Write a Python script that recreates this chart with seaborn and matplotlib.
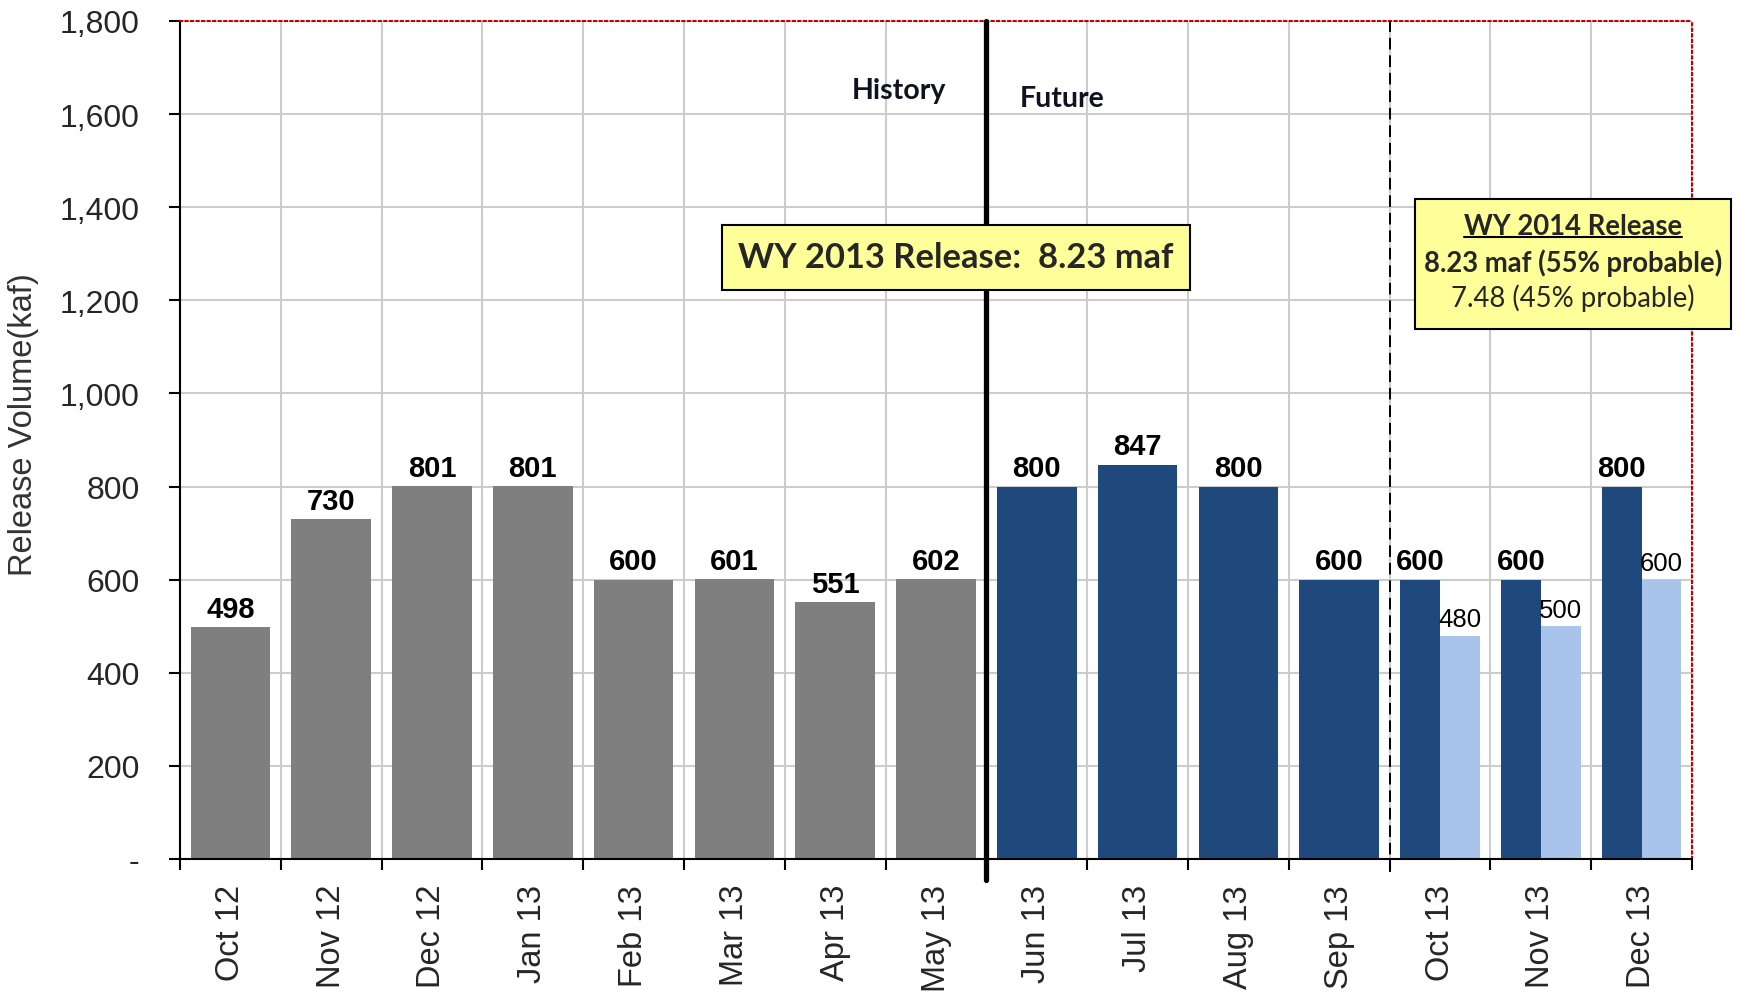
import numpy as np
import pandas as pd
import matplotlib
matplotlib.use("Agg")
import matplotlib.pyplot as plt
from matplotlib.lines import Line2D
from matplotlib.patches import Rectangle
from matplotlib.ticker import FuncFormatter
import seaborn as sns


# DATA

months = ["Oct 12", "Nov 12", "Dec 12", "Jan 13", "Feb 13", "Mar 13", "Apr 13",
          "May 13", "Jun 13", "Jul 13", "Aug 13", "Sep 13", "Oct 13", "Nov 13", "Dec 13"]

history_months = months[:8]
history_kaf = [498, 730, 801, 801, 600, 601, 551, 602]

future_months = months[8:]
future_kaf = [800, 847, 800, 600, 600, 600, 800]

alt_months = months[12:]
alt_kaf = [480, 500, 600]

y_ticks = [0, 200, 400, 600, 800, 1000, 1200, 1400, 1600, 1800]

GRAY = "#7F7F7F"
NAVY = "#1F497D"
LIGHT = "#A9C4EA"
BOX = "#FFFF99"


single = pd.DataFrame({
    "month": history_months + future_months[:4],
    "kaf": history_kaf + future_kaf[:4],
    "series": ["History"] * 8 + ["Future"] * 4,
})

pair = pd.DataFrame({
    "month": future_months[4:] + alt_months,
    "kaf": future_kaf[4:] + alt_kaf,
    "series": ["Future"] * 3 + ["Alt"] * 3,
})


# PLOT

sns.set_style("whitegrid")
plt.rcParams["font.family"] = ["Liberation Sans", "DejaVu Sans"]

fig = plt.figure(figsize=(17.39, 9.95), dpi=100)
ax = fig.add_axes([0.1035, 0.1357, 0.8695, 0.8422])

pal = {"History": GRAY, "Future": NAVY, "Alt": LIGHT}

sns.barplot(
    data=single, x="month", y="kaf", hue="series", order=months,
    hue_order=["History", "Future"], palette=pal, dodge=False,
    width=0.79, saturation=1, errorbar=None, legend=False,
    linewidth=0, ax=ax, zorder=2
)

sns.barplot(
    data=pair, x="month", y="kaf", hue="series", order=months,
    hue_order=["Future", "Alt"], palette=pal, dodge=True,
    width=0.79, saturation=1, errorbar=None, legend=False,
    linewidth=0, ax=ax, zorder=2
)

# bar labels
for i, c in enumerate(ax.containers):
    vals = [v for v in c.datavalues]
    labels = ["" if np.isnan(v) else f"{v:.0f}" for v in vals]
    if i == 3:
        ax.bar_label(c, labels=labels, padding=3, fontsize=18.5, color="black")
    else:
        ax.bar_label(c, labels=labels, padding=3, fontsize=21,
                     fontweight="bold", color="black")

ax.set_xlim(-0.5, len(months) - 0.5)
ax.set_ylim(0, 1800)
ax.set_yticks(y_ticks)
ax.yaxis.set_major_formatter(FuncFormatter(lambda v, p: "-" if v == 0 else f"{v:,.0f}"))

ax.set_xticks(range(len(months)))
ax.set_xticklabels(months, rotation=90)
ax.set_xticks(np.arange(-0.5, len(months), 1), minor=True)

ax.tick_params(axis="x", which="major", length=0, pad=18, labelsize=23.5)
ax.tick_params(axis="x", which="minor", length=8, width=1.5, color="black",
               direction="out", bottom=True)
ax.tick_params(axis="y", length=8, width=1.5, color="black", direction="out",
               left=True, pad=21, labelsize=23)

ax.grid(False)
ax.grid(axis="y", which="major", color="#CCCCCC", lw=1.5, zorder=0)
ax.grid(axis="x", which="minor", color="#CCCCCC", lw=1.5, zorder=0)
ax.set_axisbelow(True)

ax.set_xlabel("")
ax.set_ylabel("Release Volume(kaf)", fontsize=23.5, color="#333333")
ax.yaxis.set_label_coords(-0.093, 0.52)

for s in ["top", "right"]:
    ax.spines[s].set_color("#C00000")
    ax.spines[s].set_linestyle(":")
    ax.spines[s].set_linewidth(1.5)
for s in ["left", "bottom"]:
    ax.spines[s].set_color("black")
    ax.spines[s].set_linewidth(1.5)

# history / future divider and WY boundary
ax.axvline(7.5, ymin=-0.025, ymax=1, color="black", lw=3.8, clip_on=False, zorder=4)
ax.axvline(11.5, ymin=-0.015, ymax=1, color="black", lw=1.4, ls=(0, (6, 3)),
           clip_on=False, zorder=4)

lato = ["Lato", "DejaVu Sans"]
ax.text(6.63, 1652, "History", ha="center", va="center", fontsize=20.5,
        fontweight="bold", family=lato, color="#111122")
ax.text(8.25, 1635, "Future", ha="center", va="center", fontsize=20.5,
        fontweight="bold", family=lato, color="#111122")

ax.text(7.2, 1292, "WY 2013 Release:  8.23 maf", ha="center", va="center",
        fontsize=24.8, fontweight="bold", family=lato, zorder=6,
        bbox=dict(boxstyle="square,pad=0.48", fc=BOX, ec="black", lw=1.5))

# WY 2014 box
fig.patches.append(Rectangle((0.8137, 0.6683), 0.1817, 0.1307, transform=fig.transFigure,
                             fc=BOX, ec="black", lw=1.5, zorder=5))
t1 = fig.text(0.9045, 0.7718, "WY 2014 Release", ha="center", va="center",
              fontsize=19.8, fontweight="bold", family=lato, zorder=6)
fig.text(0.9045, 0.7357, "8.23 maf (55% probable)", ha="center", va="center",
         fontsize=19.8, fontweight="bold", family=lato, zorder=6)
fig.text(0.9045, 0.7005, "7.48 (45% probable)", ha="center", va="center",
         fontsize=19.8, family=lato, zorder=6)

fig.canvas.draw()
bb = t1.get_window_extent().transformed(fig.transFigure.inverted())
fig.lines.append(Line2D([bb.x0, bb.x1], [bb.y0 + 0.002, bb.y0 + 0.002],
                        transform=fig.transFigure, color="black", lw=1.5, zorder=7))

fig.savefig("out.png", dpi=100)
